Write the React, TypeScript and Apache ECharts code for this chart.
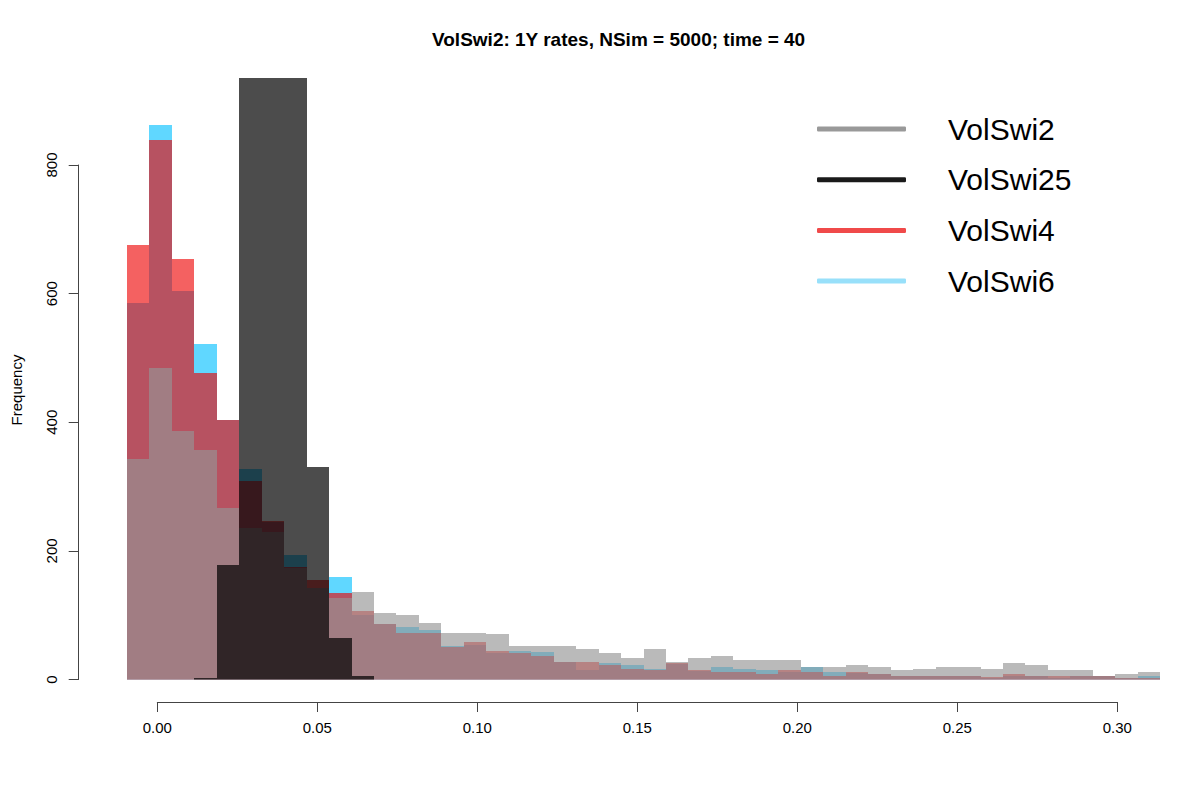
import React, { useEffect, useRef } from "react";
import * as echarts from "echarts";

const FONT = '"Liberation Sans", Arial, Helvetica, sans-serif';

const titleText = "VolSwi2: 1Y rates, NSim = 5000; time = 40";
const legendNames = ["VolSwi2", "VolSwi25", "VolSwi4", "VolSwi6"];
const legendColors = ["#999999", "#1a1a1a", "#f04a4a", "#98e0fa"];

// histogram breaks (left edge of first bin and bin width)
const BIN_START = -0.0095;
const BIN_WIDTH = 0.00702;

// counts per bin (46 bins)
const volSwi2 = [342, 484, 387, 357, 266, 236, 230, 174, 143, 127, 136, 103, 100, 88, 73, 73, 70, 52, 52, 52, 47, 41, 33, 47, 27, 34, 37, 30, 30, 30, 20, 20, 23, 19, 14, 16, 19, 19, 17, 25, 23, 14, 14, 6, 9, 12];
const volSwi25 = [0, 0, 0, 2, 178, 1120, 1850, 1449, 330, 65, 6, 0, 0, 0, 0, 0, 0, 0, 0, 0, 0, 0, 0, 0, 0, 0, 0, 0, 0, 0, 0, 0, 0, 0, 0, 0, 0, 0, 0, 0, 0, 0, 0, 0, 0, 0];
const volSwi4 = [675, 838, 653, 477, 404, 309, 247, 175, 155, 135, 106, 86, 72, 73, 50, 59, 45, 41, 36, 27, 27, 23, 16, 14, 26, 14, 12, 11, 9, 14, 11, 6, 11, 9, 6, 6, 6, 6, 4, 9, 5, 5, 5, 5, 2, 3];
const volSwi6 = [586, 862, 604, 522, 404, 327, 245, 193, 143, 159, 100, 86, 81, 77, 52, 53, 41, 44, 42, 27, 14, 25, 23, 17, 24, 13, 19, 16, 14, 11, 20, 12, 10, 9, 6, 6, 6, 6, 3, 6, 6, 2, 5, 5, 3, 5];

function toBins(counts: number[]) {
  return counts.map((c, i) => [BIN_START + i * BIN_WIDTH, BIN_START + (i + 1) * BIN_WIDTH, c]);
}

function histSeries(name: string, counts: number[], fill: string) {
  return {
    name,
    type: "custom",
    xAxisIndex: 0,
    yAxisIndex: 0,
    clip: true,
    itemStyle: { color: fill },
    encode: { x: [0, 1], y: 2 },
    data: toBins(counts),
    renderItem: (params: any, api: any) => {
      const x0 = api.value(0);
      const x1 = api.value(1);
      const v = api.value(2);
      const p0 = api.coord([x0, 0]);
      const p1 = api.coord([x1, v]);
      const left = Math.round(p0[0]);
      const right = Math.round(p1[0]);
      const bottom = Math.round(p0[1]);
      const top = Math.round(p1[1]);
      return {
        type: "rect",
        shape: { x: left, y: top, width: right - left, height: bottom - top },
        style: { fill },
      };
    },
  };
}

export default function App() {
  const ref = useRef<HTMLDivElement>(null);
  useEffect(() => {
    if (!ref.current) return;
    const chart = echarts.init(ref.current, undefined, { renderer: "svg" });
    const option: any = {
      animation: false,
      backgroundColor: "#ffffff",
      textStyle: { fontFamily: FONT },
      title: {
        text: titleText,
        left: 432,
        top: 30,
        padding: 0,
        textStyle: { fontSize: 19, fontWeight: "bold", color: "#000", fontFamily: FONT },
      },
      legend: {
        orient: "vertical",
        left: 817,
        top: 111,
        padding: 0,
        itemWidth: 89,
        itemHeight: 5,
        itemGap: 14.7,
        icon: "roundRect",
        selectedMode: false,
        textStyle: { fontSize: 30, color: "#000", lineHeight: 36, padding: [0, 0, 0, 37], fontFamily: FONT },
        data: legendNames.map((n, i) => ({ name: n, itemStyle: { color: legendColors[i] } })),
      },
      grid: [
        { left: 78.7, right: 30, top: 78, bottom: 120.5 },
        { left: 157.3, right: 82.7, top: 78, bottom: 98 },
        { left: 78.7, width: 100, top: 165, bottom: 120.5 },
      ],
      xAxis: [
        { gridIndex: 0, type: "value", min: -0.02456, max: 0.31647, show: false },
        {
          gridIndex: 1,
          type: "value",
          min: 0,
          max: 0.3,
          interval: 0.05,
          position: "bottom",
          axisLine: { show: true, onZero: false, lineStyle: { color: "#444", width: 1 } },
          axisTick: { show: true, length: 10, lineStyle: { color: "#444", width: 1 } },
          axisLabel: { formatter: (v: number) => v.toFixed(2), fontSize: 15, color: "#000", margin: 18, fontFamily: FONT },
          splitLine: { show: false },
        },
        { gridIndex: 2, type: "value", min: 0, max: 1, show: false },
      ],
      yAxis: [
        { gridIndex: 0, type: "value", min: 0, max: 935, show: false },
        {
          gridIndex: 1,
          type: "value",
          min: 0,
          max: 1,
          position: "left",
          name: "Frequency",
          nameLocation: "middle",
          nameGap: 133,
          nameTextStyle: { fontSize: 15, color: "#000", fontFamily: FONT },
          axisLine: { show: false },
          axisTick: { show: false },
          axisLabel: { show: false },
          splitLine: { show: false },
        },
        {
          gridIndex: 2,
          type: "value",
          min: 0,
          max: 800,
          interval: 200,
          position: "left",
          axisLine: { show: true, onZero: false, lineStyle: { color: "#444", width: 1 } },
          axisTick: { show: true, length: 10, lineStyle: { color: "#444", width: 1 } },
          axisLabel: { rotate: 90, fontSize: 15, color: "#000", margin: 20, fontFamily: FONT },
          splitLine: { show: false },
        },
      ],
      series: [
        histSeries("VolSwi6", volSwi6, "rgba(0,191,255,0.625)"),
        histSeries("VolSwi4", volSwi4, "rgba(237,0,0,0.62)"),
        histSeries("VolSwi2", volSwi2, "rgba(149,149,149,0.65)"),
        histSeries("VolSwi25", volSwi25, "rgba(0,0,0,0.7)"),
      ],
    };
    chart.setOption(option);
    return () => chart.dispose();
  }, []);
  return (
    <div
      ref={ref}
      style={{ position: "absolute", left: 0, top: 0, width: 1200, height: 800, background: "#fff" }}
    />
  );
}
